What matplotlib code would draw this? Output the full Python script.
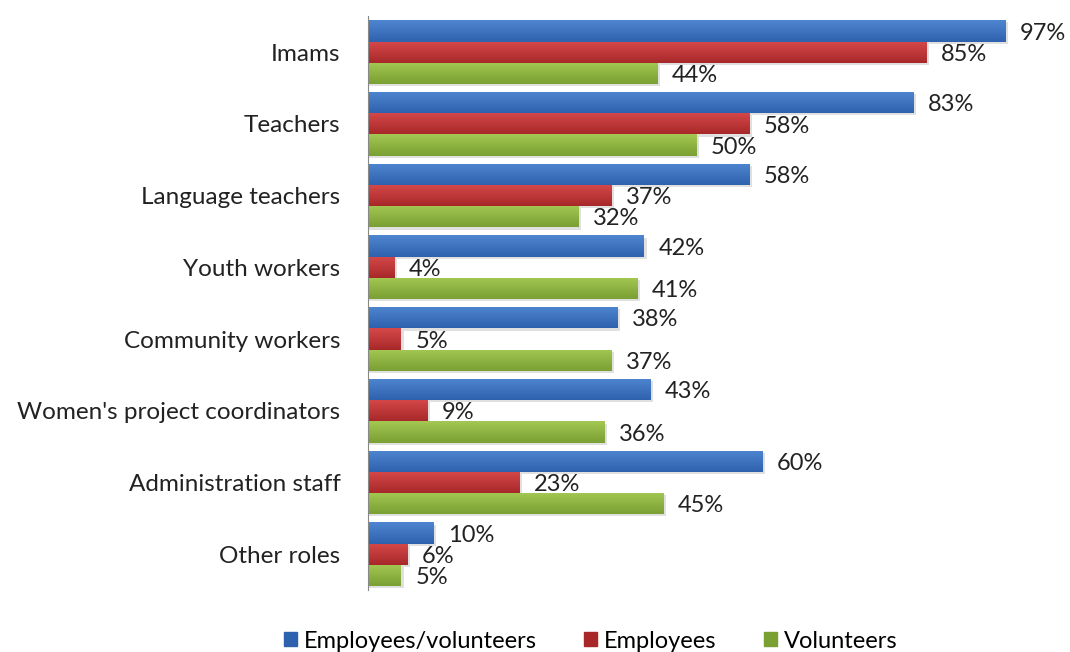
import numpy as np
import matplotlib.pyplot as plt
from matplotlib.colors import LinearSegmentedColormap
from matplotlib.patches import Rectangle

roles = ['Imams', 'Teachers', 'Language teachers', 'Youth workers',
         'Community workers', "Women's project coordinators",
         'Administration staff', 'Other roles']
emp_vol = [97, 83, 58, 42, 38, 43, 60, 10]
employees = [85, 58, 37, 4, 5, 9, 23, 6]
volunteers = [44, 50, 32, 41, 37, 36, 45, 5]

series = [('Employees/volunteers', emp_vol, '#4f85d0', '#2f62ae'),
          ('Employees', employees, '#d6494a', '#a8282a'),
          ('Volunteers', volunteers, '#a3c852', '#7a9f33')]

plt.rcParams['font.family'] = ['Lato', 'DejaVu Sans']

fig = plt.figure(figsize=(10.7, 6.52), dpi=100)
ax = fig.add_axes([0.344, 0.095, 0.614, 0.88])

h = 0.296
y = np.arange(len(roles))
grad = np.linspace(0, 1, 64).reshape(-1, 1)

for i, (name, vals, top, bot) in enumerate(series):
    cmap = LinearSegmentedColormap.from_list(name, [top, bot])
    ypos = y + (i - 1) * h
    bars = ax.barh(ypos, vals, height=h, color=bot, label=name, zorder=2)
    for b, v in zip(bars, vals):
        x0, y0 = b.get_x(), b.get_y()
        w, bh = b.get_width(), b.get_height()
        # soft shadow under each bar
        ax.add_patch(Rectangle((x0, y0 + 0.03), w + 0.4, bh, color='#000000',
                               alpha=0.12, lw=0, zorder=1))
        im = ax.imshow(grad, cmap=cmap, aspect='auto', zorder=3,
                       extent=(x0, x0 + w, y0 + bh, y0))
        im.set_clip_path(b)
        ax.text(v + 2.2, y0 + bh / 2 + 0.03, f'{v}%', va='center', ha='left',
                fontsize=17, color='#222222')

ax.set_xlim(0, 100)
ax.set_ylim(len(roles) - 0.5, -0.5)
ax.set_yticks(y)
ax.set_yticklabels(roles, fontsize=17.5, color='#222222')
ax.tick_params(axis='y', length=0, pad=20)
ax.set_xticks([])
for s in ['top', 'right', 'bottom']:
    ax.spines[s].set_visible(False)
ax.spines['left'].set_color('#888888')
ax.spines['left'].set_zorder(4)

handles = [Rectangle((0, 0), 1, 1, color=c[3]) for c in series]
fig.legend(handles, [s[0] for s in series], loc='lower center',
           bbox_to_anchor=(0.552, -0.032), ncol=3, frameon=False, fontsize=17,
           handlelength=0.55, handleheight=0.55, handletextpad=0.3,
           columnspacing=2.0)

fig.savefig('out.png', dpi=100, facecolor='white')
